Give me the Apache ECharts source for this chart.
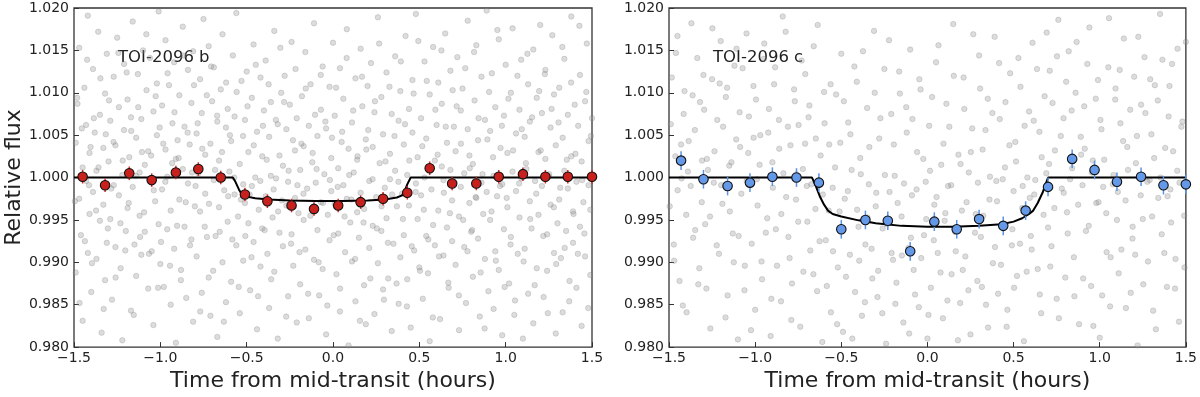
<!DOCTYPE html>
<html>
<head>
<meta charset="utf-8">
<script src="https://cdn.jsdelivr.net/npm/echarts@6/dist/echarts.min.js"></script>
<style>
  html, body { margin: 0; padding: 0; background: #fff; }
  #chart { width: 1200px; height: 397px; }
</style>
</head>
<body>
<div id="chart"></div>
<script>
// ticks
const xTicks = [-1.5, -1.0, -0.5, 0.0, 0.5, 1.0, 1.5]
const yTicks = [0.980, 0.985, 0.990, 0.995, 1.000, 1.005, 1.010, 1.015, 1.020]

// TOI-2096 b : binned points
const timeB = [-1.45, -1.32, -1.18, -1.05, -0.91, -0.78, -0.65, -0.51, -0.38, -0.24, -0.11, 0.03,
  0.16, 0.29, 0.43, 0.56, 0.69, 0.83, 0.96, 1.10, 1.23, 1.36, 1.50]
const fluxB = [1.0001, 0.9991, 1.0005, 0.9997, 1.0006, 1.0010, 1.0000, 0.9980, 0.9972, 0.9967, 0.9963, 0.9967,
  0.9971, 0.9975, 0.9982, 1.0011, 0.9993, 0.9993, 1.0001, 1.0004, 1.0001, 1.0001, 1.0001]
const errB = [0.0008, 0.0008, 0.0008, 0.0008, 0.0008, 0.0008, 0.0008, 0.0008, 0.0008, 0.0008, 0.0008, 0.0008,
  0.0008, 0.0008, 0.0008, 0.0008, 0.0008, 0.0008, 0.0008, 0.0008, 0.0008, 0.0008, 0.0008]
// TOI-2096 b : model
const modelB = [[-1.5, 1.0], [-0.58, 1.0], [-0.565, 0.9995], [-0.545, 0.9986], [-0.525, 0.9979], [-0.50, 0.99775],
  [-0.45, 0.99755], [-0.37, 0.9974], [-0.25, 0.99728], [-0.10, 0.99722], [0.05, 0.99722], [0.20, 0.99728],
  [0.30, 0.99742], [0.37, 0.99765], [0.40, 0.9979], [0.415, 0.9984], [0.43, 0.9992], [0.45, 1.0], [1.5, 1.0]]

// TOI-2096 c : binned points
const timeC = [-1.43, -1.30, -1.16, -1.03, -0.90, -0.76, -0.63, -0.50, -0.36, -0.23, -0.10, 0.04,
  0.17, 0.30, 0.44, 0.57, 0.70, 0.84, 0.97, 1.10, 1.24, 1.37, 1.50]
const fluxC = [1.0020, 0.9998, 0.9990, 0.9994, 1.0001, 1.0000, 0.9994, 0.9939, 0.9950, 0.9949, 0.9913, 0.9948,
  0.9939, 0.9951, 0.9943, 0.9961, 0.9989, 1.0022, 1.0009, 0.9995, 1.0001, 0.9991, 0.9992]
const errC = [0.0011, 0.0011, 0.0011, 0.0011, 0.0011, 0.0011, 0.0011, 0.0011, 0.0011, 0.0011, 0.0011, 0.0011,
  0.0011, 0.0011, 0.0011, 0.0011, 0.0011, 0.0011, 0.0011, 0.0011, 0.0011, 0.0011, 0.0011]
// TOI-2096 c : model
const modelC = [[-1.5, 1.0], [-0.67, 1.0], [-0.65, 0.9991], [-0.625, 0.9978], [-0.60, 0.9968], [-0.577, 0.9961],
  [-0.55, 0.9957], [-0.50, 0.9954], [-0.40, 0.99495], [-0.30, 0.99462], [-0.15, 0.9943], [0.0, 0.9942],
  [0.15, 0.9942], [0.30, 0.99432], [0.43, 0.9945], [0.50, 0.9948], [0.55, 0.9952], [0.59, 0.9957],
  [0.614, 0.9961], [0.64, 0.9970], [0.67, 0.9983], [0.70, 1.0], [1.5, 1.0]]

// unbinned data, [time (h), flux offset (ppt)]
const rawB = [
  [-1.49,4.1],[-1.49,-11.2],[-1.48,8.7],[-1.47,-2.5],[-1.47,15.3],[-1.46,-6.8],[-1.45,1.2],[-1.45,-16.9],[-1.44,10.6],[-1.43,-0.4],[-1.43,6.2],[-1.42,-8.9],[-1.42,19.1],[-1.41,-4.3],[-1.41,2.9],[-1.40,-13.5],
  [-1.39,-1.7],[-1.39,12.8],[-1.38,5.3],[-1.37,-9.6],[-1.37,0.8],[-1.36,17.2],[-1.35,-5.1],[-1.35,7.4],[-1.34,-18.3],[-1.33,3.5],[-1.33,-3.2],[-1.32,9.9],[-1.32,-12.1],[-1.31,14.6],[-1.31,-7.7],[-1.30,1.9],
  [-1.29,6.7],[-1.29,-4.9],[-1.28,-14.4],[-1.27,11.9],[-1.27,-0.9],[-1.26,3.8],[-1.26,-8.2],[-1.25,16.5],[-1.24,-2.1],[-1.24,8.3],[-1.23,-10.7],[-1.22,0.3],[-1.22,-19.2],[-1.21,5.6],[-1.21,13.4],[-1.20,-6.3],
  [-1.19,-3.6],[-1.19,9.2],[-1.18,2.4],[-1.17,-15.7],[-1.17,7.1],[-1.16,-1.1],[-1.16,18.4],[-1.15,-7.9],[-1.14,4.7],[-1.14,-11.6],[-1.13,12.2],[-1.12,-4.5],[-1.12,0.6],[-1.11,6.9],[-1.11,-9.1],[-1.10,15.0],
  [-1.09,1.5],[-1.09,-6.4],[-1.08,10.3],[-1.07,-13.1],[-1.07,3.1],[-1.06,-0.2],[-1.06,14.1],[-1.05,-8.7],[-1.04,7.8],[-1.04,-17.4],[-1.03,-2.8],[-1.02,5.0],[-1.02,11.1],[-1.01,-5.5],[-1.01,19.6],[-1.00,-10.2],
  [-0.99,-1.4],[-0.99,8.5],[-0.98,-12.9],[-0.97,3.3],[-0.97,16.2],[-0.96,-6.1],[-0.96,0.1],[-0.95,10.9],[-0.94,-3.9],[-0.94,-15.0],[-0.93,6.4],[-0.92,-8.4],[-0.92,13.6],[-0.91,2.2],[-0.91,-19.5],[-0.90,4.4],
  [-0.89,9.7],[-0.89,-2.6],[-0.88,-10.9],[-0.87,1.0],[-0.87,17.8],[-0.86,-5.8],[-0.86,6.0],[-0.85,-14.2],[-0.84,12.7],[-0.84,-0.7],[-0.83,3.9],[-0.82,-7.3],[-0.82,8.8],[-0.81,-17.0],[-0.81,14.9],[-0.80,-3.4],
  [-0.79,-9.3],[-0.79,5.2],[-0.78,0.5],[-0.77,11.6],[-0.77,-4.0],[-0.76,-13.6],[-0.76,7.6],[-0.75,18.7],[-0.74,-1.9],[-0.74,2.7],[-0.73,-7.0],[-0.72,15.5],[-0.72,-11.8],[-0.71,4.0],[-0.71,-16.3],[-0.70,9.0],
  [-0.69,-0.3],[-0.69,13.0],[-0.68,-6.9],[-0.67,6.6],[-0.67,-18.8],[-0.66,2.0],[-0.66,-3.5],[-0.65,10.4],[-0.64,-10.0],[-0.64,16.9],[-0.63,-1.5],[-0.62,5.9],[-0.62,-14.7],[-0.61,8.1],[-0.61,-5.2],[-0.60,0.7],
  [-0.59,-12.3],[-0.59,4.3],[-0.58,14.4],[-0.57,-2.0],[-0.57,7.2],[-0.56,-8.0],[-0.56,19.4],[-0.55,-4.6],[-0.54,1.6],[-0.54,-16.0],[-0.53,11.4],[-0.52,-0.8],[-0.52,-9.8],[-0.51,6.8],[-0.51,-3.0],[-0.50,12.5],
  [-0.49,-5.4],[-0.49,3.0],[-0.48,-13.3],[-0.47,9.4],[-0.47,-1.0],[-0.46,15.7],[-0.46,-7.6],[-0.45,0.0],[-0.44,-17.9],[-0.44,5.4],[-0.43,-3.8],[-0.42,11.8],[-0.42,-10.5],[-0.41,2.5],[-0.41,-6.0],[-0.40,7.9],
  [-0.39,-2.2],[-0.39,13.8],[-0.38,-9.0],[-0.37,4.8],[-0.37,-15.4],[-0.36,0.2],[-0.36,8.9],[-0.35,-4.7],[-0.34,17.3],[-0.34,-11.1],[-0.33,-0.1],[-0.32,6.3],[-0.32,-19.0],[-0.31,2.6],[-0.31,-6.5],[-0.30,10.0],
  [-0.29,-8.1],[-0.29,1.4],[-0.28,12.0],[-0.27,-3.3],[-0.27,5.7],[-0.26,-14.0],[-0.26,-0.5],[-0.25,8.6],[-0.24,-6.7],[-0.24,16.0],[-0.23,-10.4],[-0.22,3.2],[-0.22,-2.4],[-0.21,-17.1],[-0.21,7.0],[-0.20,-4.2],
  [-0.19,0.9],[-0.19,-12.6],[-0.18,9.6],[-0.17,-5.0],[-0.17,3.7],[-0.16,14.8],[-0.16,-8.5],[-0.15,-1.3],[-0.14,6.1],[-0.14,-16.6],[-0.13,11.0],[-0.12,-3.6],[-0.12,1.8],[-0.11,-9.7],[-0.11,18.2],[-0.10,-0.6],
  [-0.09,-6.2],[-0.09,4.9],[-0.08,-13.9],[-0.07,8.0],[-0.07,-2.9],[-0.06,13.1],[-0.06,-10.8],[-0.05,0.4],[-0.04,5.8],[-0.04,-18.5],[-0.03,-4.4],[-0.02,10.7],[-0.02,-7.4],[-0.01,2.3],[-0.01,-1.6],[0.00,15.9],
  [0.01,-3.1],[0.01,7.3],[0.02,-11.4],[0.03,1.1],[0.03,-6.6],[0.04,12.9],[0.04,-15.8],[0.05,4.2],[0.06,-0.9],[0.06,9.3],[0.07,-8.8],[0.08,17.5],[0.08,-2.5],[0.09,-19.8],[0.09,3.4],[0.10,-5.3],
  [0.11,6.5],[0.11,-9.9],[0.12,0.6],[0.13,-14.6],[0.13,11.7],[0.14,-4.1],[0.14,2.1],[0.15,-7.1],[0.16,15.2],[0.16,-1.8],[0.17,8.4],[0.18,-12.7],[0.18,-3.7],[0.19,4.5],[0.19,-17.3],[0.20,10.8],
  [0.21,-0.4],[0.21,-8.3],[0.22,13.5],[0.23,-5.7],[0.23,3.6],[0.24,-16.1],[0.24,7.7],[0.25,-2.3],[0.26,18.9],[0.26,-10.1],[0.27,1.7],[0.28,-6.3],[0.28,9.5],[0.29,-13.2],[0.29,5.1],[0.30,-1.2],
  [0.31,-4.8],[0.31,12.4],[0.32,-11.9],[0.33,2.8],[0.33,-0.2],[0.34,7.5],[0.34,-18.1],[0.35,-7.8],[0.36,14.3],[0.36,0.8],[0.37,-3.4],[0.38,-14.9],[0.38,6.7],[0.39,10.2],[0.39,-9.4],[0.40,-1.9],
  [0.41,3.9],[0.41,-6.8],[0.42,16.7],[0.43,-12.0],[0.43,0.3],[0.44,8.1],[0.44,-3.3],[0.45,-17.7],[0.46,5.3],[0.46,11.5],[0.47,-8.6],[0.48,-0.7],[0.48,19.3],[0.49,-4.9],[0.49,2.4],[0.50,-10.6],
  [0.51,7.0],[0.51,-2.1],[0.52,-14.3],[0.53,13.7],[0.53,0.0],[0.54,-6.9],[0.54,4.6],[0.55,-11.3],[0.56,9.8],[0.56,-19.3],[0.57,-1.4],[0.58,15.4],[0.58,-5.6],[0.59,2.0],[0.59,-8.0],[0.60,6.2],
  [0.61,-3.9],[0.61,11.2],[0.62,-16.7],[0.63,1.3],[0.63,8.7],[0.64,-9.2],[0.64,-0.3],[0.65,17.0],[0.66,-5.9],[0.66,4.1],[0.67,-13.0],[0.68,0.9],[0.68,12.6],[0.69,-2.7],[0.69,-7.5],[0.70,6.0],
  [0.71,-10.3],[0.71,3.1],[0.72,14.2],[0.73,-4.6],[0.73,-18.0],[0.74,7.9],[0.74,-1.1],[0.75,10.5],[0.76,-8.2],[0.76,0.5],[0.77,-14.8],[0.78,5.7],[0.78,18.5],[0.79,-3.0],[0.79,2.6],[0.80,-6.4],
  [0.81,1.6],[0.81,-11.7],[0.82,9.1],[0.83,-2.4],[0.83,15.6],[0.84,-7.2],[0.84,4.4],[0.85,-16.4],[0.86,-0.6],[0.86,11.9],[0.87,-4.3],[0.88,6.8],[0.88,-9.6],[0.89,19.7],[0.89,-1.7],[0.90,-13.4],
  [0.91,5.5],[0.91,-5.0],[0.92,12.3],[0.93,-15.5],[0.93,0.2],[0.94,-8.7],[0.94,8.3],[0.95,-2.2],[0.96,16.3],[0.96,-10.9],[0.97,3.5],[0.98,-0.8],[0.98,-18.6],[0.99,7.3],[0.99,-6.1],[1.00,13.3],
  [1.01,-3.5],[1.01,2.9],[1.02,-12.5],[1.03,10.0],[1.03,-7.0],[1.04,17.6],[1.04,0.7],[1.05,-16.2],[1.06,5.2],[1.06,-1.6],[1.07,-9.0],[1.08,8.0],[1.08,-4.7],[1.09,13.9],[1.09,-0.1],[1.10,-19.0],
  [1.11,4.8],[1.11,-8.4],[1.12,1.0],[1.13,11.0],[1.13,-13.7],[1.14,-2.8],[1.14,6.6],[1.15,-6.0],[1.16,15.1],[1.16,-17.2],[1.17,-0.4],[1.18,9.4],[1.18,-10.7],[1.19,3.0],[1.19,-4.4],[1.20,18.0],
  [1.21,-1.0],[1.21,7.6],[1.22,-14.1],[1.23,2.2],[1.23,12.7],[1.24,-6.7],[1.24,-11.0],[1.25,0.1],[1.26,5.9],[1.26,-3.2],[1.27,16.8],[1.28,-8.9],[1.28,9.8],[1.29,-18.4],[1.29,3.8],[1.30,-5.4],
  [1.31,10.6],[1.31,-2.6],[1.32,-9.5],[1.33,4.7],[1.33,-15.9],[1.34,0.8],[1.34,14.0],[1.35,-6.3],[1.36,7.4],[1.36,-1.3],[1.37,-12.2],[1.38,19.0],[1.38,2.5],[1.39,-4.0],[1.39,-7.7],[1.40,8.6],
  [1.41,-0.5],[1.41,-13.0],[1.42,6.1],[1.43,12.1],[1.43,-5.8],[1.44,1.9],[1.44,-17.5],[1.45,-2.9],[1.46,9.0],[1.46,-9.3],[1.47,15.8],[1.48,-0.9],[1.48,4.3],[1.49,-11.5],[1.49,-3.8],[1.50,7.0],
  [-1.495,-2.8],[-1.482,9.4],[-1.468,-14.8],[-1.455,5.8],[-1.437,-7.5],[-1.424,13.9],[-1.413,-0.9],[-1.404,3.6],
  [-1.396,-10.1],[-1.385,7.0],[-1.372,-3.9],[-1.358,1.2],[-1.347,11.7],[-1.328,-15.5],[-1.316,5.1],[-1.304,-6.0],
  [-1.297,9.1],[-1.284,-1.3],[-1.271,4.2],[-1.259,-11.8],[-1.243,14.7],[-1.231,-5.4],[-1.218,2.0],[-1.203,-8.6],
  [-1.195,12.4],[-1.183,-3.0],[-1.169,5.5],[-1.154,-16.2],[-1.142,0.2],[-1.128,8.3],[-1.117,-7.0],[-1.106,3.0],
  [-1.094,-4.1],[-1.081,16.9],[-1.066,-9.0],[-1.053,2.6],[-1.038,-1.5],[-1.027,9.6],[-1.013,-13.0],[-1.004,5.9],
  [-0.996,-7.6],[-0.983,4.0],[-0.971,-0.5],[-0.958,12.3],[-0.944,-10.4],[-0.932,1.7],[-0.918,7.7],[-0.903,-5.7],
  [-0.894,2.3],[-0.881,-12.1],[-0.867,14.4],[-0.853,-2.9],[-0.842,5.3],[-0.828,-8.0],[-0.816,0.6],[-0.805,10.9],
  [-0.796,-1.0],[-0.784,6.4],[-0.769,-15.8],[-0.757,3.4],[-0.743,-5.8],[-0.731,9.7],[-0.718,-3.1],[-0.706,13.1],
  [-0.694,-11.0],[-0.683,0.9],[-0.671,7.3],[-0.656,-6.4],[-0.643,3.0],[-0.632,-17.0],[-0.619,11.2],[-0.607,-2.2],
  [-0.597,5.0],[-0.583,-7.3],[-0.572,0.0],[-0.558,10.1],[-0.546,-12.9],[-0.533,-2.6],[-0.521,4.9],[-0.508,-6.9],
  [-0.495,8.4],[-0.483,-2.0],[-0.472,-9.4],[-0.459,3.8],[-0.447,13.3],[-0.434,-14.0],[-0.421,-0.4],[-0.406,6.1],
  [-0.396,-6.2],[-0.384,2.1],[-0.373,11.0],[-0.358,-12.0],[-0.344,-1.4],[-0.331,6.8],[-0.318,-4.0],[-0.305,15.3],
  [-0.296,-2.7],[-0.283,8.9],[-0.271,-16.4],[-0.257,0.8],[-0.243,-7.8],[-0.232,4.4],[-0.217,12.8],[-0.206,-0.9],
  [-0.194,-8.8],[-0.183,4.0],[-0.171,-1.9],[-0.158,10.5],[-0.144,-13.7],[-0.131,-4.5],[-0.118,2.9],[-0.104,7.4],
  [-0.095,1.0],[-0.083,-10.0],[-0.071,12.1],[-0.058,-3.0],[-0.044,6.6],[-0.033,-15.1],[-0.018,-0.3],[-0.006,4.7],
  [0.004,-6.8],[0.018,10.6],[0.027,-1.1],[0.041,-13.1],[0.053,5.4],[0.067,-4.6],[0.079,14.1],[0.094,0.3],
  [0.106,-2.6],[0.117,7.9],[0.128,-9.6],[0.142,2.5],[0.156,-16.9],[0.168,11.9],[0.177,-5.3],[0.193,3.3],
  [0.204,5.6],[0.216,-11.9],[0.229,-0.2],[0.243,9.0],[0.254,-6.0],[0.267,15.8],[0.281,-3.4],[0.295,-14.4],
  [0.304,1.9],[0.318,-7.7],[0.327,10.7],[0.342,-2.0],[0.356,4.9],[0.368,-12.5],[0.379,-0.5],[0.393,13.7],
  [0.405,-4.9],[0.417,6.3],[0.428,-15.2],[0.442,2.0],[0.456,-8.1],[0.467,9.9],[0.479,-1.7],[0.494,16.1],
  [0.504,-11.0],[0.517,3.7],[0.526,-3.8],[0.543,11.4],[0.552,-7.3],[0.567,0.9],[0.578,-16.5],[0.593,8.0],
  [0.606,2.7],[0.614,-9.3],[0.628,15.0],[0.642,-1.8],[0.653,6.0],[0.668,-12.4],[0.677,-4.2],[0.693,10.3],
  [0.704,-0.6],[0.716,8.4],[0.729,-13.9],[0.741,4.0],[0.754,-5.0],[0.766,12.9],[0.779,-8.7],[0.792,1.1],
  [0.806,-6.2],[0.817,14.8],[0.826,-2.3],[0.843,7.0],[0.855,-11.2],[0.866,0.4],[0.878,-17.8],[0.894,4.5],
  [0.904,10.1],[0.918,-4.0],[0.927,2.4],[0.943,-9.8],[0.952,17.4],[0.967,-1.0],[0.978,6.1],[0.994,-12.9],
  [1.006,-2.4],[1.016,9.3],[1.028,-7.9],[1.043,3.2],[1.054,-14.5],[1.068,12.0],[1.078,-0.7],[1.093,5.7],
  [1.104,-9.9],[1.117,1.7],[1.126,14.6],[1.142,-4.9],[1.153,7.1],[1.168,-12.7],[1.177,-1.9],[1.194,10.2],
  [1.203,3.2],[1.218,-6.9],[1.227,12.2],[1.244,-16.0],[1.252,0.4],[1.266,8.1],[1.279,-3.5],[1.293,-10.2],
  [1.306,6.5],[1.316,-1.2],[1.328,15.4],[1.342,-8.3],[1.354,2.1],[1.368,-14.6],[1.379,11.2],[1.393,-4.3],
  [1.404,2.8],[1.418,-9.0],[1.427,17.9],[1.443,-0.3],[1.456,-6.6],[1.467,10.1],[1.478,-15.4],[1.494,4.9]
]
const rawC = [
  [-1.49,6.3],[-1.47,-9.8],[-1.46,14.7],[-1.45,-1.5],[-1.43,3.9],[-1.42,-15.1],[-1.41,10.2],[-1.40,-4.4],
  [-1.39,0.7],[-1.37,18.2],[-1.36,-7.1],[-1.35,5.6],[-1.33,-12.6],[-1.32,8.9],[-1.31,-2.9],[-1.30,12.1],
  [-1.29,-5.5],[-1.28,2.2],[-1.26,-17.8],[-1.25,11.6],[-1.24,-0.6],[-1.22,6.8],[-1.21,-9.0],[-1.20,16.1],
  [-1.19,-3.1],[-1.17,9.5],[-1.16,-13.9],[-1.15,1.4],[-1.13,-6.6],[-1.12,13.2],[-1.11,4.5],[-1.10,-19.1],
  [-1.09,7.7],[-1.08,-1.9],[-1.06,-10.4],[-1.05,17.0],[-1.04,2.9],[-1.02,-7.8],[-1.01,10.8],[-1.00,-15.6],
  [-0.99,-0.2],[-0.97,5.0],[-0.96,-12.0],[-0.95,14.0],[-0.93,-4.8],[-0.92,8.1],[-0.91,-18.7],[-0.90,1.8],
  [-0.89,11.0],[-0.88,-6.1],[-0.86,3.4],[-0.85,-14.6],[-0.84,19.0],[-0.82,-2.3],[-0.81,6.0],[-0.80,-9.5],
  [-0.79,-16.8],[-0.77,9.0],[-0.76,0.4],[-0.75,-5.2],[-0.73,13.8],[-0.72,-11.1],[-0.71,4.0],[-0.70,-1.0],
  [-0.69,7.1],[-0.68,-8.6],[-0.66,15.5],[-0.65,-3.7],[-0.64,-13.4],[-0.62,2.6],[-0.61,-19.4],[-0.60,10.1],
  [-0.59,-7.4],[-0.57,3.9],[-0.56,-15.9],[-0.55,-1.2],[-0.53,9.8],[-0.52,-10.6],[-0.51,-4.0],[-0.50,14.6],
  [-0.49,-18.2],[-0.48,-2.5],[-0.46,6.5],[-0.45,-9.1],[-0.44,0.9],[-0.42,-13.5],[-0.41,11.3],[-0.40,-5.8],
  [-0.39,2.3],[-0.38,-16.3],[-0.36,-7.9],[-0.35,8.2],[-0.34,-0.8],[-0.32,-11.9],[-0.31,17.3],[-0.30,-3.4],
  [-0.29,-14.1],[-0.28,4.6],[-0.26,-6.0],[-0.25,12.8],[-0.24,-19.6],[-0.22,-1.7],[-0.21,7.5],[-0.20,-9.7],
  [-0.19,0.2],[-0.18,-12.4],[-0.16,9.9],[-0.15,-4.6],[-0.14,-17.1],[-0.12,5.3],[-0.11,-8.3],[-0.10,15.1],
  [-0.09,-2.1],[-0.08,-10.9],[-0.06,3.0],[-0.05,-15.3],[-0.04,10.4],[-0.02,-6.8],[-0.01,-0.5],[0.00,-19.0],
  [0.01,6.1],[0.02,-13.0],[0.04,-3.2],[0.05,13.6],[0.06,-8.9],[0.08,1.5],[0.09,-16.6],[0.10,-5.1],
  [0.11,8.7],[0.12,-1.0],[0.14,-11.4],[0.15,18.1],[0.16,-6.4],[0.18,2.7],[0.19,-14.8],[0.20,-3.9],
  [0.21,11.8],[0.22,-9.3],[0.24,0.6],[0.25,-18.5],[0.26,5.8],[0.28,-4.3],[0.29,-12.2],[0.30,14.4],
  [0.31,-7.0],[0.32,3.3],[0.34,-15.0],[0.35,9.3],[0.36,-2.6],[0.38,-10.1],[0.39,16.6],[0.40,-0.4],
  [0.41,-13.7],[0.42,6.9],[0.44,-5.5],[0.45,1.2],[0.46,-17.6],[0.48,12.3],[0.49,-8.0],[0.50,-1.6],
  [0.51,4.2],[0.52,-11.6],[0.54,10.7],[0.55,-3.6],[0.56,-19.3],[0.58,0.0],[0.59,7.8],[0.60,-6.9],
  [0.61,15.9],[0.62,-2.0],[0.64,-10.8],[0.65,5.4],[0.66,-16.0],[0.68,9.6],[0.69,0.5],[0.70,-5.9],
  [0.71,12.6],[0.72,-8.1],[0.74,3.2],[0.75,-14.3],[0.76,18.6],[0.78,-1.3],[0.79,7.0],[0.80,-11.8],
  [0.81,-4.1],[0.82,14.9],[0.84,1.1],[0.85,-9.4],[0.86,10.0],[0.88,-17.3],[0.89,4.8],[0.90,-0.9],
  [0.91,8.4],[0.92,-6.3],[0.94,17.7],[0.95,-12.8],[0.96,2.0],[0.98,-3.0],[0.99,11.5],[1.00,-18.9],
  [1.01,5.7],[1.02,-1.1],[1.04,-8.8],[1.05,13.0],[1.06,-15.2],[1.08,0.3],[1.09,9.2],[1.10,-5.0],
  [1.11,-11.3],[1.12,6.4],[1.14,16.4],[1.15,-2.7],[1.16,3.6],[1.18,-13.6],[1.19,-7.2],[1.20,11.9],
  [1.21,1.7],[1.22,-19.8],[1.24,8.6],[1.25,-4.9],[1.26,14.2],[1.28,-9.9],[1.29,-0.3],[1.30,5.1],
  [1.31,-15.7],[1.32,10.9],[1.34,-2.4],[1.35,19.3],[1.36,-6.7],[1.38,3.5],[1.39,-12.9],[1.40,7.2],
  [1.41,-1.4],[1.42,13.4],[1.44,-9.6],[1.45,0.8],[1.46,-17.0],[1.48,6.6],[1.49,-4.5],[1.50,16.0],
  [-1.496,-3.4],[-1.484,11.8],[-1.472,-7.9],[-1.463,2.5],[-1.451,16.7],[-1.439,-12.2],[-1.427,-0.1],[-1.415,7.5],
  [-1.398,-15.9],[-1.386,4.3],[-1.374,-1.0],[-1.363,9.7],[-1.348,-6.2],[-1.336,14.1],[-1.324,-10.7],[-1.308,2.0],
  [-1.296,8.0],[-1.283,-13.1],[-1.274,0.9],[-1.262,-4.6],[-1.248,17.6],[-1.236,3.1],[-1.223,-8.0],[-1.206,11.1],
  [-1.197,-0.9],[-1.186,6.0],[-1.172,-16.5],[-1.163,10.6],[-1.147,-4.0],[-1.138,1.8],[-1.124,-10.0],[-1.108,15.2],
  [-1.096,-6.9],[-1.087,3.6],[-1.073,12.9],[-1.062,-13.3],[-1.049,-0.4],[-1.036,7.2],[-1.024,-18.0],[-1.009,4.7],
  [-0.995,9.2],[-0.986,-3.3],[-0.974,1.5],[-0.963,-9.9],[-0.947,15.8],[-0.938,-6.5],[-0.924,5.3],[-0.906,-14.3],
  [-0.897,-1.2],[-0.884,13.0],[-0.873,-10.4],[-0.862,6.8],[-0.848,-4.3],[-0.836,0.5],[-0.823,17.2],[-0.807,-7.0],
  [-0.795,3.8],[-0.786,-12.5],[-0.774,10.4],[-0.763,-2.6],[-0.748,6.2],[-0.738,-17.6],[-0.723,1.0],[-0.709,12.2],
  [-0.697,-5.2],[-0.685,8.5],[-0.674,-0.8],[-0.662,-11.4],[-0.648,4.6],[-0.637,18.0],[-0.626,-7.5],[-0.607,-2.0],
  [-0.597,6.4],[-0.584,-12.8],[-0.573,-3.9],[-0.562,11.0],[-0.548,-8.7],[-0.536,1.2],[-0.524,-17.3],[-0.506,4.1],
  [-0.496,-6.0],[-0.485,9.0],[-0.473,-11.7],[-0.462,-1.6],[-0.447,5.1],[-0.436,-19.0],[-0.424,13.1],[-0.408,-3.8],
  [-0.396,-9.8],[-0.387,0.4],[-0.374,14.9],[-0.363,-14.7],[-0.348,-4.7],[-0.337,3.6],[-0.324,-8.4],[-0.306,10.0],
  [-0.297,-1.8],[-0.286,-11.0],[-0.273,7.0],[-0.262,-16.0],[-0.247,0.3],[-0.236,-5.5],[-0.223,16.2],[-0.208,-8.9],
  [-0.195,3.9],[-0.186,-14.9],[-0.173,-3.0],[-0.164,12.5],[-0.148,-9.2],[-0.136,-0.7],[-0.123,8.3],[-0.106,-18.4],
  [-0.096,-7.1],[-0.087,6.9],[-0.072,-13.8],[-0.063,-1.4],[-0.047,11.6],[-0.036,-9.5],[-0.024,2.2],[-0.007,-4.9],
  [0.006,-16.2],[0.015,0.8],[0.027,9.5],[0.037,-7.4],[0.053,-2.3],[0.064,15.6],[0.076,-11.2],[0.093,4.0],
  [0.104,-4.2],[0.116,-14.5],[0.127,6.0],[0.138,-0.9],[0.153,12.0],[0.164,-8.7],[0.177,-19.2],[0.192,1.6],
  [0.205,-10.9],[0.214,8.1],[0.227,-2.9],[0.238,-13.3],[0.252,3.0],[0.266,16.9],[0.276,-6.5],[0.293,-0.6],
  [0.306,10.5],[0.316,-12.9],[0.324,-4.5],[0.337,5.6],[0.352,-17.7],[0.363,0.1],[0.377,7.6],[0.392,-8.2],
  [0.404,-2.8],[0.416,13.5],[0.427,-10.3],[0.437,-0.2],[0.453,8.9],[0.464,-15.6],[0.476,3.8],[0.493,-6.1],
  [0.503,-13.0],[0.514,1.9],[0.528,14.1],[0.537,-7.8],[0.553,-1.0],[0.564,6.1],[0.576,-11.1],[0.594,-2.4],
  [0.605,-8.5],[0.617,6.7],[0.626,-0.3],[0.636,12.8],[0.652,-13.8],[0.663,2.4],[0.674,-4.4],[0.692,17.1],
  [0.706,1.6],[0.713,-10.5],[0.726,8.8],[0.737,-3.6],[0.752,14.3],[0.763,-16.6],[0.774,4.9],[0.791,-1.8],
  [0.805,11.3],[0.814,-6.6],[0.828,-0.2],[0.837,7.9],[0.853,-14.0],[0.866,16.0],[0.875,-3.2],[0.892,2.7],
  [0.904,-11.9],[0.913,3.4],[0.928,13.4],[0.936,-5.7],[0.954,0.6],[0.963,-17.5],[0.977,9.3],[0.993,-2.9],
  [1.004,6.8],[1.014,-13.9],[1.026,2.1],[1.038,-4.2],[1.054,18.8],[1.063,-9.4],[1.076,-0.8],[1.092,10.5],
  [1.105,-1.7],[1.116,12.7],[1.126,-8.5],[1.136,4.3],[1.152,-15.4],[1.164,0.9],[1.177,8.0],[1.191,-5.8],
  [1.206,-9.1],[1.216,4.9],[1.224,16.6],[1.238,-2.1],[1.253,-12.6],[1.265,7.6],[1.276,-0.5],[1.293,11.6],
  [1.304,-4.6],[1.316,2.3],[1.326,-17.9],[1.337,9.1],[1.353,0.0],[1.364,13.9],[1.375,-8.9],[1.394,-2.2],
  [1.405,10.8],[1.414,-5.3],[1.426,3.1],[1.437,-13.1],[1.452,15.2],[1.463,-0.6],[1.474,6.0],[1.492,-10.6]
]

const chart = echarts.init(document.getElementById('chart'))
const FONT = 'DejaVu Sans'
const minus = (s) => s.replace('-', '\u2212')

function xAxisFor(idx) {
  return {
    gridIndex: idx,
    type: 'value',
    min: -1.5,
    max: 1.5,
    interval: 0.5,
    name: 'Time from mid-transit (hours)',
    nameLocation: 'middle',
    nameGap: 21,
    nameTextStyle: { fontFamily: FONT, fontSize: 22, color: '#222' },
    axisLine: { show: false, onZero: false },
    axisTick: { show: true, inside: true, length: 5, lineStyle: { color: '#333' } },
    axisLabel: {
      fontFamily: FONT, fontSize: 14, color: '#222', margin: 4,
      formatter: (v) => minus(v.toFixed(1)),
    },
    splitLine: { show: false },
  }
}

function yAxisFor(idx, withName) {
  return {
    gridIndex: idx,
    type: 'value',
    min: 0.98,
    max: 1.02,
    interval: 0.005,
    name: withName ? 'Relative flux' : '',
    nameLocation: 'middle',
    nameGap: 46,
    nameTextStyle: { fontFamily: FONT, fontSize: 22, color: '#222' },
    axisLine: { show: false, onZero: false },
    axisTick: { show: true, inside: true, length: 5, lineStyle: { color: '#333' } },
    axisLabel: {
      fontFamily: FONT, fontSize: 14, color: '#222', margin: 5,
      formatter: (v) => v.toFixed(3),
    },
    splitLine: { show: false },
  }
}

// vertical error bars from [t, flux, err]
function errorBars(idx, data, color) {
  return {
    type: 'custom',
    xAxisIndex: idx,
    yAxisIndex: idx,
    z: 4,
    data: data,
    renderItem: (params, api) => {
      const t = api.value(0)
      const f = api.value(1)
      const e = api.value(2)
      const p1 = api.coord([t, f + e])
      const p2 = api.coord([t, f - e])
      return {
        type: 'line',
        shape: { x1: p1[0], y1: p1[1], x2: p2[0], y2: p2[1] },
        style: { stroke: color, lineWidth: 1.5 },
      }
    },
  }
}

function greySeries(idx, raw) {
  return {
    type: 'scatter',
    xAxisIndex: idx,
    yAxisIndex: idx,
    z: 1,
    symbolSize: 5.5,
    silent: true,
    data: raw.map((d) => [d[0], 1 + d[1] / 1000]),
    itemStyle: { color: 'rgba(150,150,150,0.42)', borderColor: 'rgba(105,105,105,0.45)', borderWidth: 0.6 },
  }
}

function modelSeries(idx, curve) {
  return {
    type: 'line',
    xAxisIndex: idx,
    yAxisIndex: idx,
    z: 3,
    data: curve,
    showSymbol: false,
    silent: true,
    lineStyle: { color: '#000', width: 2 },
  }
}

function binSeries(idx, data, color) {
  return {
    type: 'scatter',
    xAxisIndex: idx,
    yAxisIndex: idx,
    z: 5,
    symbolSize: 9.5,
    data: data,
    itemStyle: { color: color, borderColor: '#111', borderWidth: 1.1, opacity: 1 },
  }
}

const binB = timeB.map((t, i) => [t, fluxB[i], errB[i]])
const binC = timeC.map((t, i) => [t, fluxC[i], errC[i]])

chart.setOption({
  animation: false,
  grid: [
    { left: 74, top: 8, width: 518, height: 343, show: true, borderColor: '#333', borderWidth: 1.3, backgroundColor: 'transparent' },
    { left: 669, top: 8, width: 518, height: 343, show: true, borderColor: '#333', borderWidth: 1.3, backgroundColor: 'transparent' },
  ],
  xAxis: [xAxisFor(0), xAxisFor(1)],
  yAxis: [yAxisFor(0, true), yAxisFor(1, false)],
  graphic: [
    { type: 'text', left: 118, top: 49, style: { text: 'TOI-2096 b', font: '16.5px "DejaVu Sans"', fill: '#222' } },
    { type: 'text', left: 713, top: 49, style: { text: 'TOI-2096 c', font: '16.5px "DejaVu Sans"', fill: '#222' } },
  ],
  series: [
    greySeries(0, rawB),
    modelSeries(0, modelB),
    errorBars(0, binB, '#d42a22'),
    binSeries(0, binB, '#c8201c'),
    greySeries(1, rawC),
    modelSeries(1, modelC),
    errorBars(1, binC, '#5b93e6'),
    binSeries(1, binC, '#6499e9'),
  ],
})
</script>
</body>
</html>
